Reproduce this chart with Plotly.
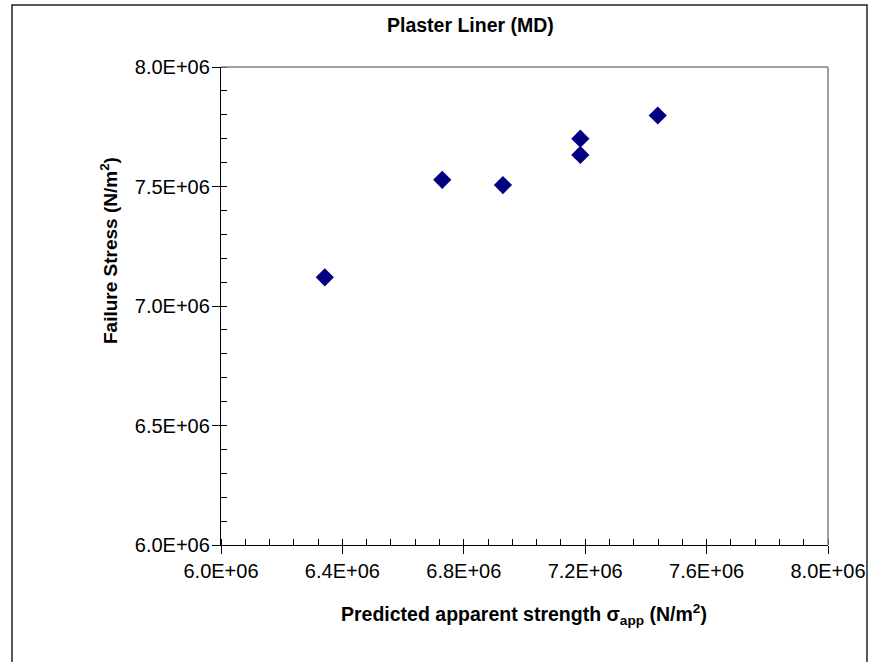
import plotly.graph_objects as go

# Data
predicted_strength = [6.342e6, 6.729e6, 6.929e6, 7.184e6, 7.184e6, 7.439e6]
failure_stress = [7.120e6, 7.528e6, 7.506e6, 7.700e6, 7.632e6, 7.797e6]

x_tickvals = [6.0e6, 6.4e6, 6.8e6, 7.2e6, 7.6e6, 8.0e6]
x_ticktext = ["6.0E+06", "6.4E+06", "6.8E+06", "7.2E+06", "7.6E+06", "8.0E+06"]
y_tickvals = [6.0e6, 6.5e6, 7.0e6, 7.5e6, 8.0e6]
y_ticktext = ["6.0E+06", "6.5E+06", "7.0E+06", "7.5E+06", "8.0E+06"]

FONT = "Arial, Liberation Sans, sans-serif"

fig = go.Figure()
fig.add_trace(go.Scatter(
    x=predicted_strength, y=failure_stress, mode="markers",
    marker=dict(symbol="diamond", size=14, color="#000080",
                line=dict(width=0)),
    showlegend=False, hoverinfo="x+y",
))

common_x = dict(range=[6.0e6, 8.0e6], tickvals=x_tickvals, showgrid=False,
                zeroline=False, fixedrange=True, automargin=False)
common_y = dict(range=[6.0e6, 8.0e6], tickvals=y_tickvals, showgrid=False,
                zeroline=False, fixedrange=True, automargin=False)

fig.update_layout(
    width=871, height=662,
    margin=dict(l=221, r=43, t=67, b=117, autoexpand=False),
    paper_bgcolor="white", plot_bgcolor="white",
    font=dict(family=FONT, color="black"),
    xaxis=dict(**common_x, ticktext=x_ticktext,
               showline=True, linecolor="black", linewidth=1.3,
               ticks="outside", ticklen=8, tickwidth=1.3, tickcolor="black",
               tickfont=dict(size=20, family=FONT, color="black"),
               minor=dict(ticks="inside", dtick=0.08e6, tick0=6.0e6,
                          ticklen=6, tickwidth=1.1, tickcolor="black",
                          showgrid=False)),
    yaxis=dict(**common_y, ticktext=y_ticktext,
               showline=True, linecolor="black", linewidth=1.3,
               ticks="outside", ticklen=8, tickwidth=1.3, tickcolor="black",
               ticklabelstandoff=-2,
               tickfont=dict(size=20, family=FONT, color="black"),
               minor=dict(ticks="inside", dtick=0.1e6, tick0=6.0e6,
                          ticklen=6, tickwidth=1.1, tickcolor="black",
                          showgrid=False)),
    xaxis2=dict(**common_x, overlaying="x", anchor="y", side="bottom",
                ticks="inside", ticklen=6, tickwidth=1.3, tickcolor="black",
                showticklabels=False, showline=False),
    yaxis2=dict(**common_y, overlaying="y", anchor="x", side="left",
                ticks="inside", ticklen=6, tickwidth=1.3, tickcolor="black",
                showticklabels=False, showline=False),
)

# invisible trace to activate overlay axes
fig.add_trace(go.Scatter(x=[None], y=[None], xaxis="x2", yaxis="y2",
                         showlegend=False, hoverinfo="skip"))

PW, PH = 607, 478  # plot area size in px (page x 221..828, y 67..545)
shapes = [
    # plot area top and right borders (gray)
    dict(type="line", xref="paper", yref="paper", x0=0, x1=1, y0=1, y1=1,
         line=dict(color="#808080", width=1.5)),
    dict(type="line", xref="paper", yref="paper", x0=1, x1=1, y0=0, y1=1,
         line=dict(color="#808080", width=1.5)),
    # chart outer border
    dict(type="rect", xref="paper", yref="paper",
         x0=(12 - 221) / PW, x1=(867 - 221) / PW,
         y0=(545 - 668) / PH, y1=(545 - 5) / PH,
         line=dict(color="#222222", width=1.5), fillcolor="rgba(0,0,0,0)"),
]
fig.update_layout(shapes=shapes)

annotations = [
    dict(text="<b>Plaster Liner (MD)</b>", xref="paper", yref="paper",
         x=(470 - 221) / PW, y=(545 - 25) / PH, showarrow=False,
         xanchor="center", yanchor="middle",
         font=dict(size=19.5, family=FONT, color="black")),
    dict(text="<b>Predicted apparent strength σ<sub>app</sub> (N/m<sup>2</sup>)</b>",
         xref="paper", yref="paper",
         x=(524 - 221) / PW, y=(545 - 614) / PH, showarrow=False,
         xanchor="center", yanchor="middle",
         font=dict(size=19.5, family=FONT, color="black")),
    dict(text="<b>Failure Stress (N/m<sup>2</sup>)</b>",
         xref="paper", yref="paper", textangle=-90,
         x=(109 - 221) / PW, y=(545 - 251) / PH, showarrow=False,
         xanchor="center", yanchor="middle",
         font=dict(size=19, family=FONT, color="black")),
]
fig.update_layout(annotations=annotations)

fig.write_html("out.html", config={"displayModeBar": False},
               post_script="document.body.style.margin='0px';"
                           "document.body.style.overflow='hidden';")
